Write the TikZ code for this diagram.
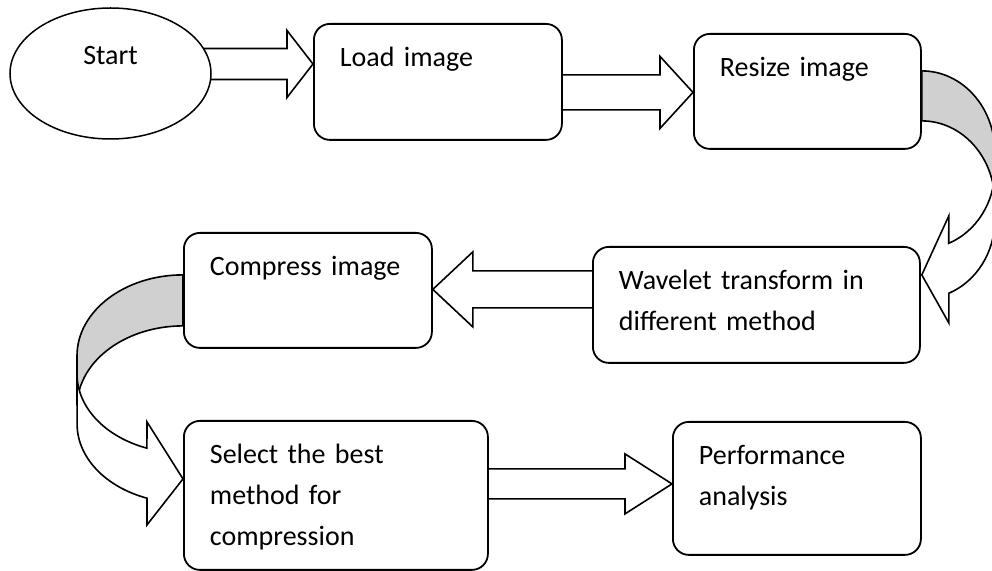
\documentclass[tikz,border=0pt]{standalone}
\usepackage{fontspec}
\setmainfont{Carlito}
\usepackage{tikz}
\usetikzlibrary{shapes.geometric,calc,backgrounds}
\definecolor{flowGray}{RGB}{208,208,208}

\tikzset{
  procbox/.style={draw, line width=0.9pt, rounded corners=8pt, fill=white, anchor=north west,
    align=left, inner xsep=13pt, inner ysep=0pt, text height=21.5pt},
  boxsize/.style 2 args={text width=#1, text depth=#2},
  startnode/.style={ellipse, draw, line width=0.75pt, fill=white, minimum width=100.5pt,
    minimum height=65.5pt, inner sep=0pt, text height=10pt, text depth=18.5pt},
  fatarrow/.style={draw, line width=0.8pt, fill=white, line join=miter},
  bentback/.style={draw, line width=0.8pt, fill=flowGray},
  bentfront/.style={draw, line width=0.8pt, fill=white}
}
% block arrow: #1 start, #2 target anchor, #3 shaft half width, #4 head half width, #5 head length
\newcommand\blockarrow[5]{%
  \coordinate (ba-a) at #1;
  \coordinate (ba-b) at (ba-a -| #2);
  \coordinate (ba-h) at ($(ba-b)!#5!(ba-a)$);
  \draw[fatarrow] ($(ba-a)!#3!90:(ba-b)$) -- ($(ba-h)!#3!90:(ba-b)$) -- ($(ba-h)!#4!90:(ba-b)$)
    -- (ba-b) -- ($(ba-h)!#4!-90:(ba-b)$) -- ($(ba-h)!#3!-90:(ba-b)$) -- ($(ba-a)!#3!-90:(ba-b)$) -- cycle;
}

\begin{document}
\begin{tikzpicture}[x=0.5pt, y=-0.5pt, font=\fontsize{14pt}{20.5pt}\selectfont]
\useasboundingbox (0,0) rectangle (992,571);
% steps
\node[startnode] (start) at (110.5,73.5) {Start};
\node[procbox, boxsize={98pt}{36.5pt}] (load) at (313,23) {Load image};
\node[procbox, boxsize={87.5pt}{36pt}] (resize) at (693,33) {Resize image};
\node[procbox, boxsize={137.5pt}{36.5pt}] (wavelet) at (592,246) {Wavelet transform in\\different method};
\node[procbox, boxsize={98pt}{36pt}] (compress) at (183,232) {Compress image};
\node[procbox, boxsize={126pt}{53pt}] (select) at (183,420) {Select the best\\method for\\compression};
\node[procbox, boxsize={98pt}{45pt}] (perf) at (672,421) {Performance\\analysis};
% straight arrows, behind the boxes
\begin{scope}[on background layer]
  \blockarrow{([yshift=4.75pt]start.center)}{load.west}{7.75pt}{16.75pt}{13pt}
  \blockarrow{([yshift=-5.25pt]load.center)}{resize.west}{8.75pt}{18pt}{16.5pt}
  \blockarrow{([yshift=7.75pt]wavelet.center)}{compress.east}{9.25pt}{18.75pt}{20pt}
  \blockarrow{([yshift=5.75pt]select.center)}{perf.west}{7.5pt}{15pt}{23.5pt}
\end{scope}
% bent arrow resize -> wavelet
\begin{scope}[shift={(resize.east)}]
  \draw[bentback] (0,-20.5) arc[start angle=270, end angle=360, x radius=73, y radius=81]
    -- (73,93.5) -- (71.4,93.8) arc[start angle=348.1, end angle=270, x radius=73, y radius=81] -- cycle;
  \draw[bentfront] (73,78.5) arc[start angle=0, end angle=68.3, x radius=73, y radius=79]
    -- (27,124.5) -- (0,183.5) -- (27,231.5) -- (27,201.9)
    arc[start angle=68.3, end angle=0, x radius=73, y radius=79] -- cycle;
\end{scope}
% bent arrow compress -> select
\begin{scope}[shift={(compress.west)}]
  \draw[bentback] (0,-15.5) arc[start angle=270, end angle=180, x radius=106, y radius=81]
    -- (-106,99.5) -- (-103.7,99.8) arc[start angle=191.9, end angle=270, x radius=106, y radius=81] -- cycle;
  \draw[bentfront] (-106,83.5) arc[start angle=180, end angle=109.9, x radius=106, y radius=79]
    -- (-36,131.5) -- (0,188.5) -- (-36,234.5) -- (-36,207.8)
    arc[start angle=109.9, end angle=180, x radius=106, y radius=79] -- cycle;
\end{scope}
\end{tikzpicture}
\end{document}
